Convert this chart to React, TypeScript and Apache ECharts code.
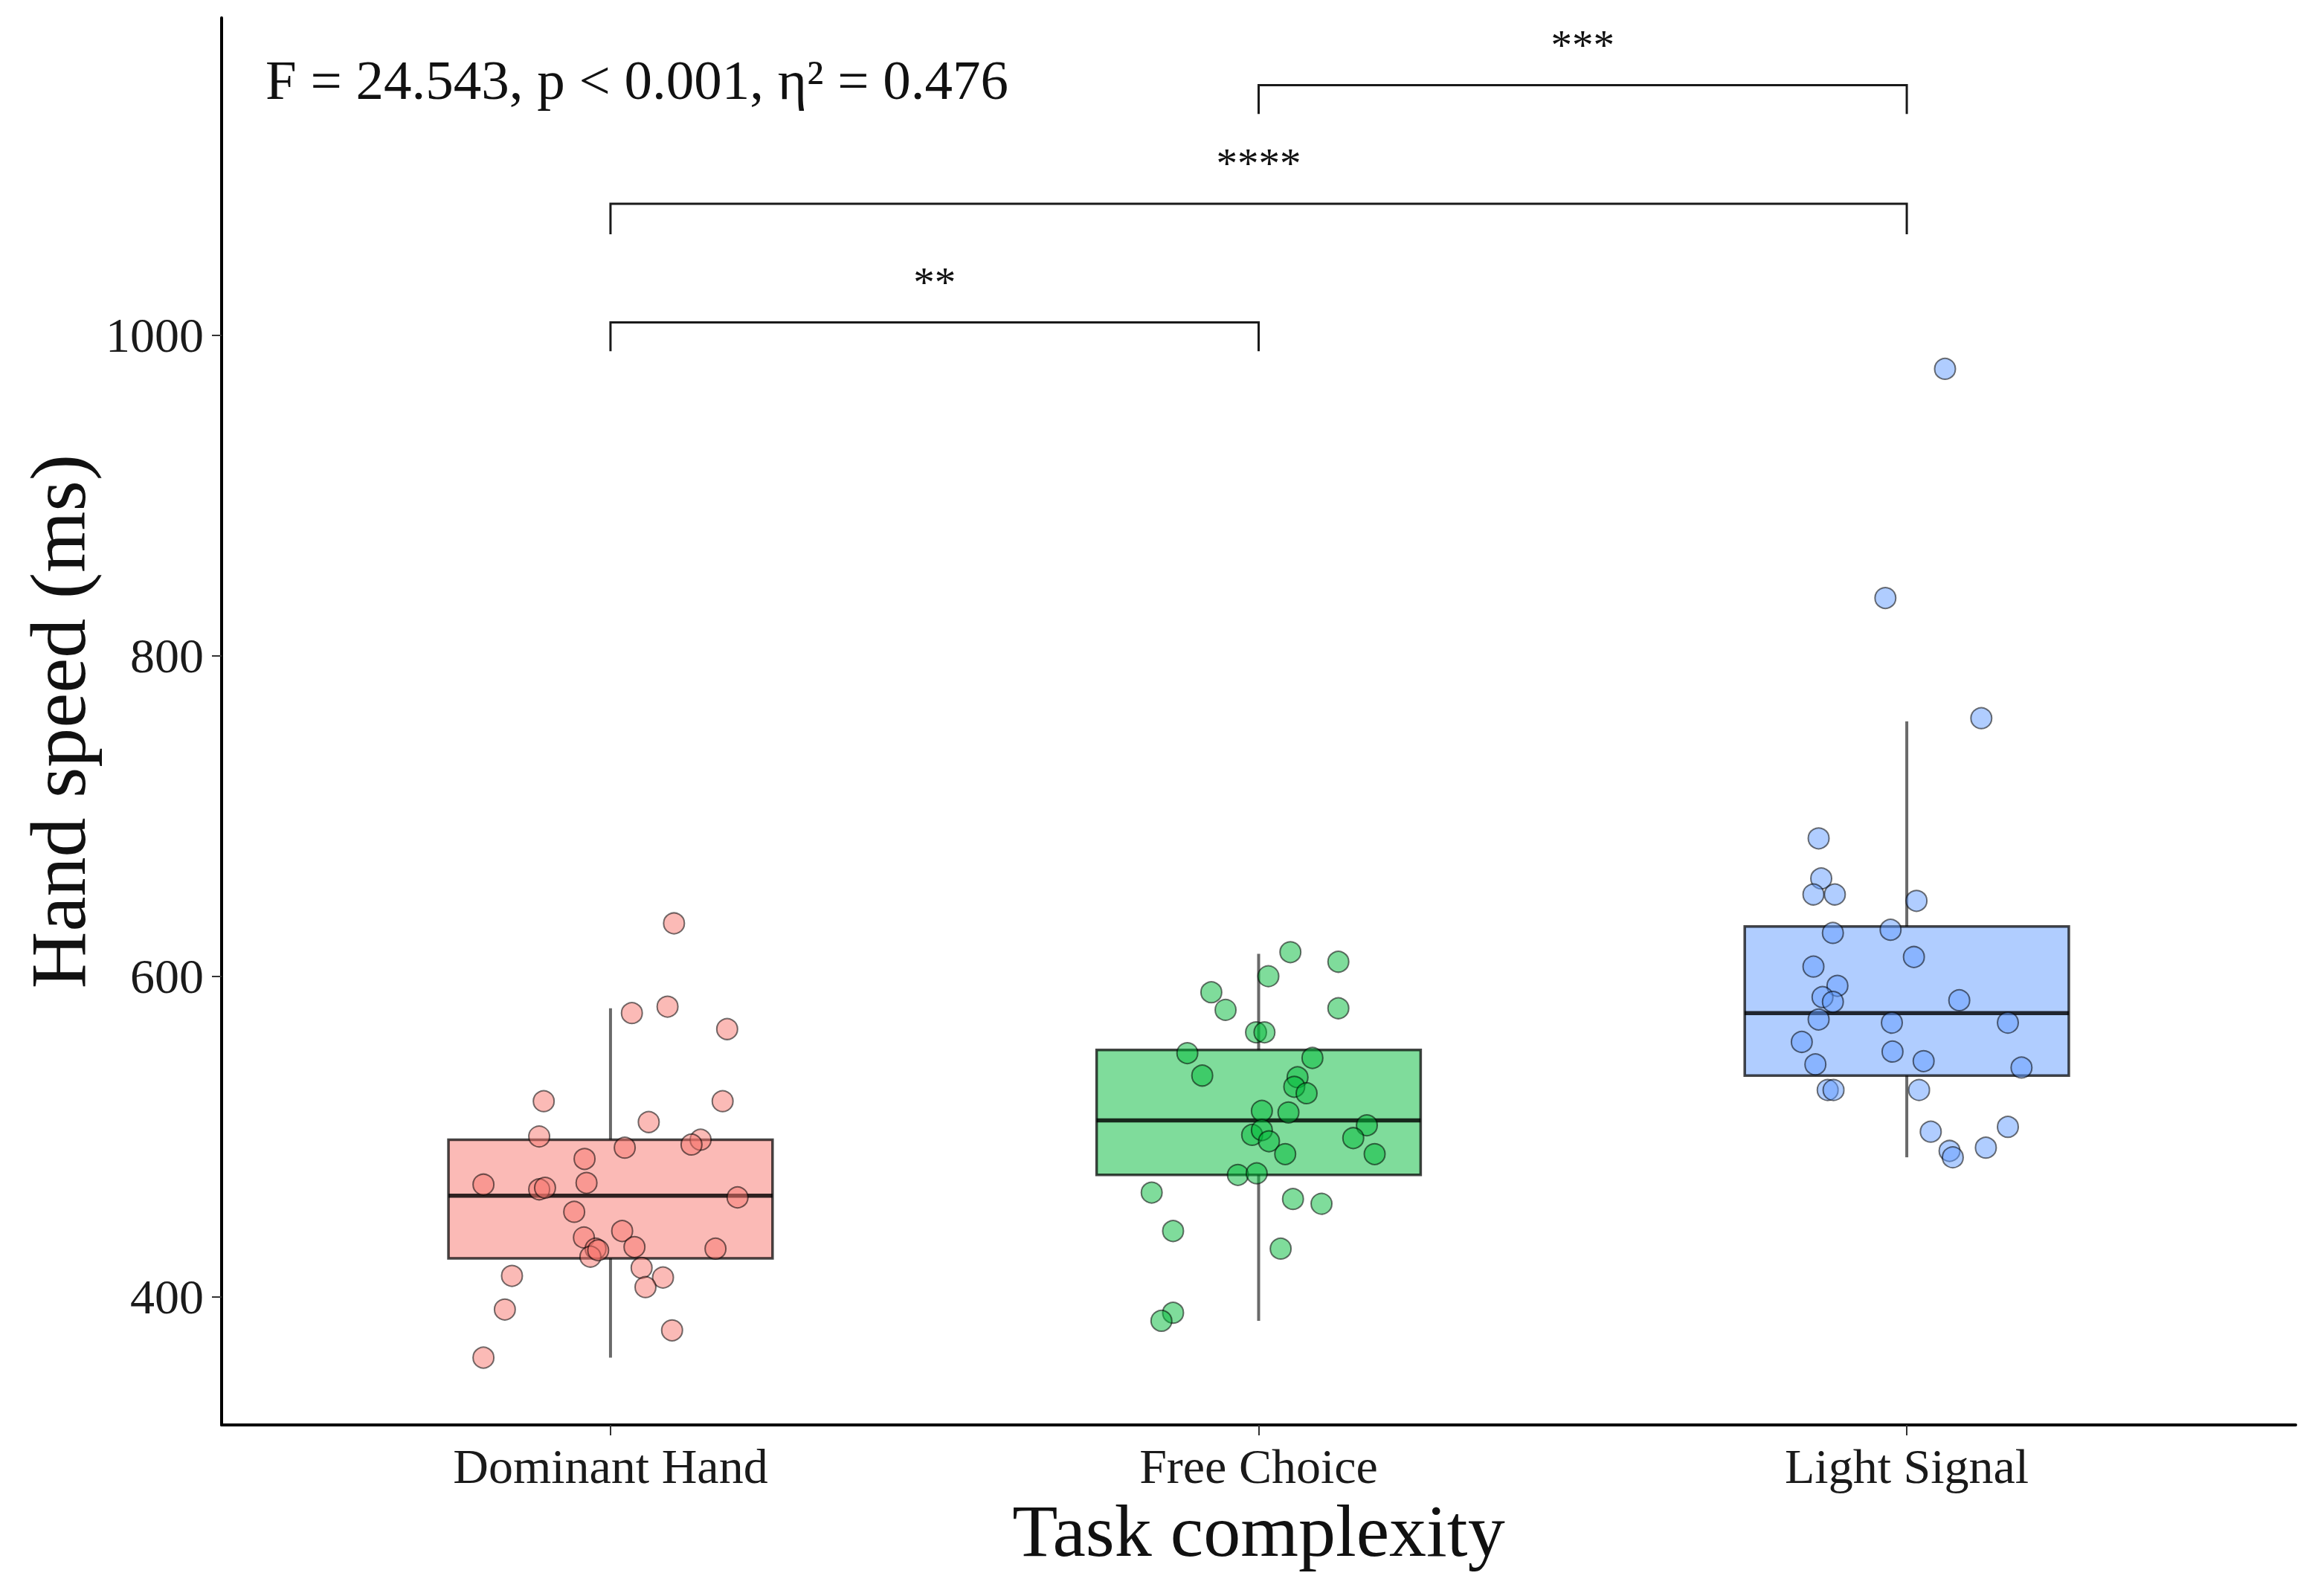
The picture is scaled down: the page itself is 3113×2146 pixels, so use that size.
import React, { useEffect, useRef } from "react";
import * as echarts from "echarts";

const categories = ["Dominant Hand", "Free Choice", "Light Signal"];
const yTicks = [400, 600, 800, 1000];
const xTicks = [1, 2, 3];

// box stats: [lower whisker, Q1, median, Q3, upper whisker]
const boxDominant = [362, 424, 463, 498, 580];
const boxFree = [385, 476, 510, 554, 614];
const boxLight = [487, 538, 577, 631, 759];

const jitterDominant = [0.098, 0.033, 0.088, 0.18, -0.103, 0.173, 0.059, -0.11, 0.022, 0.139, 0.125, -0.04, -0.196, -0.037, -0.11, -0.101, 0.196, -0.056, 0.018, -0.041, -0.023, -0.031, -0.019, 0.037, 0.162, 0.048, -0.152, 0.081, 0.054, -0.163, 0.095, -0.196];
const valuesDominant = [633, 577, 581, 567, 522, 522, 509, 500, 493, 498, 495, 486, 470, 471, 467, 468, 462, 453, 441, 437, 430, 425, 429, 431, 430, 418, 413, 412, 406, 392, 379, 362];

const jitterFree = [0.049, 0.123, 0.015, -0.073, -0.051, 0.123, -0.004, 0.009, -0.11, 0.083, -0.087, 0.06, 0.055, 0.074, 0.005, 0.046, 0.167, -0.01, 0.005, 0.016, 0.146, 0.041, 0.179, -0.032, -0.003, -0.165, 0.053, 0.097, -0.132, 0.034, -0.132, -0.15];
const valuesFree = [615, 609, 600, 590, 579, 580, 565, 565, 552, 549, 538, 537, 531, 527, 516, 515, 507, 501, 504, 497, 499, 489, 489, 476, 477, 465, 461, 458, 441, 430, 390, 385];

const jitterLight = [0.059, -0.033, 0.115, -0.136, -0.132, -0.144, -0.111, 0.015, -0.114, -0.025, 0.011, -0.144, -0.107, -0.13, -0.114, 0.081, -0.136, -0.023, 0.156, -0.162, -0.022, -0.141, 0.026, 0.177, -0.122, -0.113, 0.019, 0.156, 0.037, 0.122, 0.066, 0.071];
const valuesLight = [979, 836, 761, 686, 661, 651, 651, 647, 627, 629, 612, 606, 594, 587, 584, 585, 573, 571, 571, 559, 553, 545, 547, 543, 529, 529, 529, 506, 503, 493, 491, 487];

// significance brackets
const bracketPairs = [[1, 2], [1, 3], [2, 3]];
const bracketTop = [1008, 1082, 1156];
const bracketTip = [990, 1063, 1138];
const bracketStars = ["**", "****", "***"];

const statText = "F = 24.543, p < 0.001, η² = 0.476";
const yTitle = "Hand speed (ms)";
const xTitle = "Task complexity";

const FONT = '"Liberation Serif", "DejaVu Serif", serif';
const FILLS = ["rgba(248,118,109,0.5)", "rgba(0,186,56,0.5)", "rgba(97,156,255,0.5)"];
const BOX_WIDTH = 0.5;

export default function App() {
  const ref = useRef<HTMLDivElement>(null);
  useEffect(() => {
    document.body.style.margin = "0";
    const chart = echarts.init(ref.current!, null, { renderer: "svg" });
    const boxes = [boxDominant, boxFree, boxLight];
    const jitters = [jitterDominant, jitterFree, jitterLight];
    const values = [valuesDominant, valuesFree, valuesLight];

    const scatterSeries = categories.map((name, gi) => ({
      type: "scatter",
      name,
      z: 3,
      symbol: "circle",
      symbolSize: 28,
      data: jitters[gi].map((d, i) => [gi + 1 + d, values[gi][i]]),
      itemStyle: {
        color: FILLS[gi],
        borderColor: "rgba(0,0,0,0.55)",
        borderWidth: 2,
        opacity: 1,
      },
    }));

    const option: any = {
      animation: false,
      backgroundColor: "#ffffff",
      grid: { left: 298, right: 26, top: 24, bottom: 230, containLabel: false },
      xAxis: {
        type: "value",
        min: 0.4,
        max: 3.6,
        name: xTitle,
        nameLocation: "middle",
        nameGap: 88,
        nameTextStyle: { fontFamily: FONT, fontSize: 100, color: "#111" },
        axisLine: { show: true, lineStyle: { color: "#000", width: 4 } },
        axisTick: { show: true, customValues: xTicks, length: 14, lineStyle: { color: "#333", width: 2 } },
        axisLabel: {
          customValues: xTicks,
          margin: 22,
          fontFamily: FONT,
          fontSize: 66,
          color: "#1a1a1a",
          formatter: (v: number) => categories[Math.round(v) - 1] ?? "",
        },
        splitLine: { show: false },
      },
      yAxis: {
        type: "value",
        min: 320,
        max: 1198,
        name: yTitle,
        nameLocation: "middle",
        nameRotate: 90,
        nameGap: 165,
        nameTextStyle: { fontFamily: FONT, fontSize: 106, color: "#111" },
        axisLine: { show: true, lineStyle: { color: "#000", width: 4 } },
        axisTick: { show: true, customValues: yTicks, length: 13, lineStyle: { color: "#333", width: 2 } },
        axisLabel: {
          customValues: yTicks,
          margin: 24,
          fontFamily: FONT,
          fontSize: 66,
          color: "#1a1a1a",
          formatter: (v: number) => String(v),
        },
        splitLine: { show: false },
      },
      graphic: [
        {
          type: "text",
          x: 357,
          y: 107,
          style: {
            text: statText,
            fontFamily: FONT,
            fontSize: 75,
            fill: "#111",
            align: "left",
            verticalAlign: "middle",
            textAlign: "left",
            textVerticalAlign: "middle",
          },
        },
      ],
      series: [
        {
          type: "custom",
          name: "boxes",
          z: 2,
          data: boxes.map((b, i) => [i + 1, ...b]),
          encode: { x: 0, y: [1, 2, 3, 4, 5] },
          renderItem: (params: any, api: any) => {
            const x = api.value(0);
            const lo = api.coord([x, api.value(1)]);
            const q1 = api.coord([x, api.value(2)]);
            const med = api.coord([x, api.value(3)]);
            const q3 = api.coord([x, api.value(4)]);
            const hi = api.coord([x, api.value(5)]);
            const hw = api.size([BOX_WIDTH, 0])[0] / 2;
            return {
              type: "group",
              children: [
                { type: "line", shape: { x1: hi[0], y1: hi[1], x2: q3[0], y2: q3[1] }, style: { stroke: "#6a6a6a", lineWidth: 4 } },
                { type: "line", shape: { x1: lo[0], y1: lo[1], x2: q1[0], y2: q1[1] }, style: { stroke: "#6a6a6a", lineWidth: 4 } },
                {
                  type: "rect",
                  shape: { x: q3[0] - hw, y: q3[1], width: hw * 2, height: q1[1] - q3[1] },
                  style: { fill: FILLS[params.dataIndex], stroke: "rgba(0,0,0,0.72)", lineWidth: 3.5 },
                },
                {
                  type: "line",
                  shape: { x1: med[0] - hw, y1: med[1], x2: med[0] + hw, y2: med[1] },
                  style: { stroke: "rgba(0,0,0,0.82)", lineWidth: 5.5 },
                },
              ],
            };
          },
        },
        ...scatterSeries,
        {
          type: "custom",
          name: "brackets",
          z: 4,
          data: bracketPairs.map((p, i) => [p[0], p[1], bracketTop[i], bracketTip[i]]),
          encode: { x: [0, 1], y: [2, 3] },
          renderItem: (params: any, api: any) => {
            const a = api.coord([api.value(0), api.value(3)]);
            const b = api.coord([api.value(0), api.value(2)]);
            const c = api.coord([api.value(1), api.value(2)]);
            const d = api.coord([api.value(1), api.value(3)]);
            return {
              type: "group",
              children: [
                {
                  type: "polyline",
                  shape: { points: [a, b, c, d] },
                  style: { stroke: "#1a1a1a", lineWidth: 3, fill: "none" },
                },
                {
                  type: "text",
                  style: {
                    text: bracketStars[params.dataIndex],
                    x: (b[0] + c[0]) / 2,
                    y: b[1] - 54,
                    align: "center",
                    verticalAlign: "middle",
                    fontFamily: FONT,
                    fontSize: 57,
                    fill: "#111",
                  },
                },
              ],
            };
          },
        },
      ],
    };
    chart.setOption(option);
    return () => chart.dispose();
  }, []);
  return <div ref={ref} style={{ width: 3113, height: 2146 }} />;
}
